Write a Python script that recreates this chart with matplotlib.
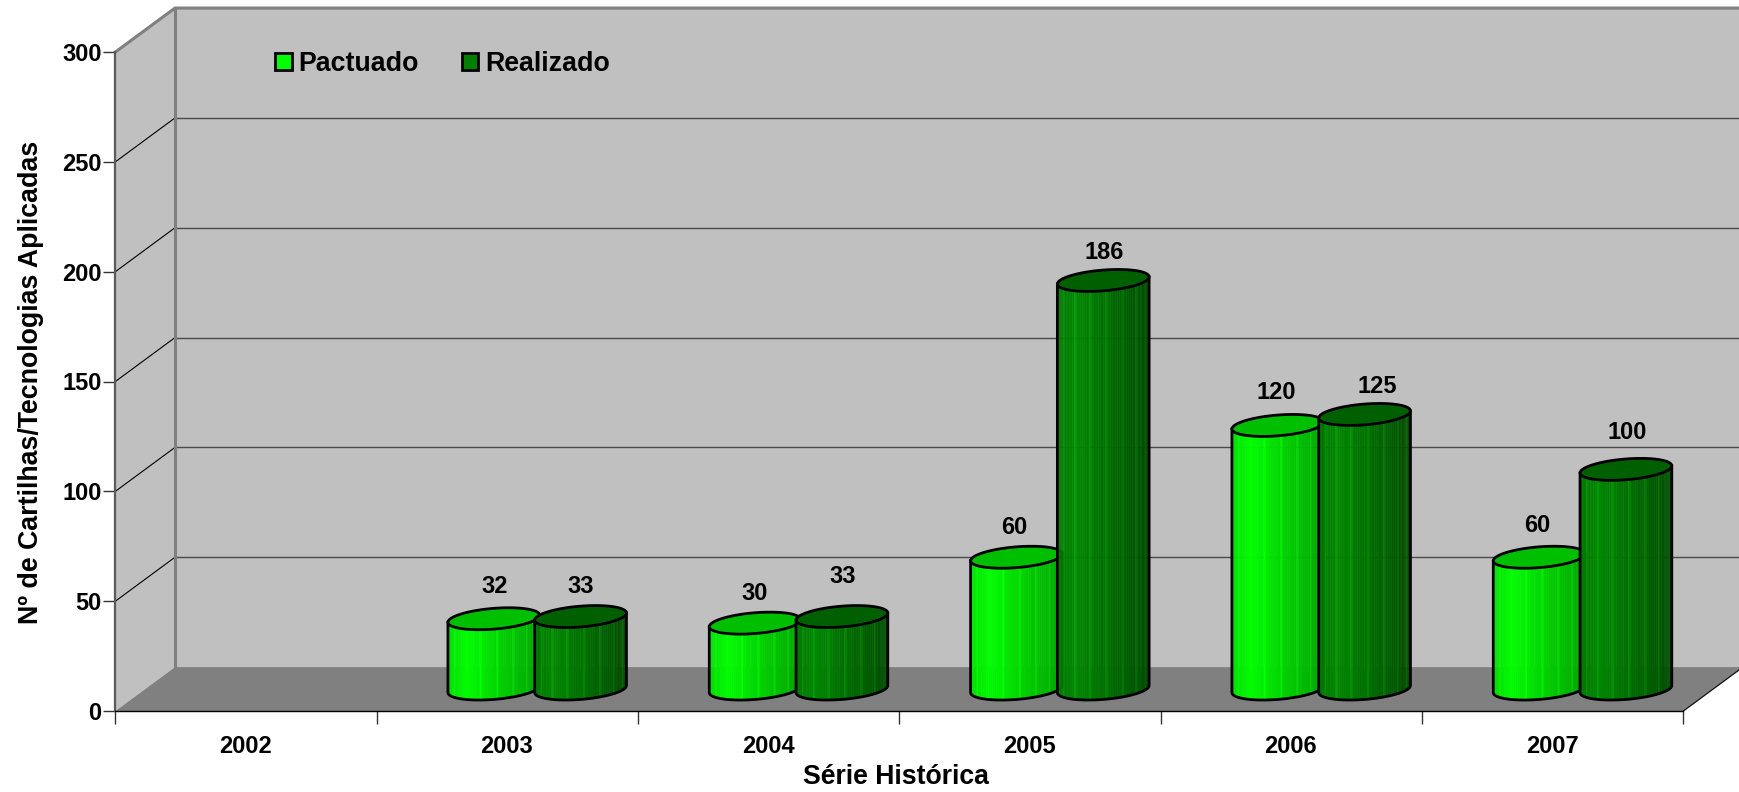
#!/usr/bin/python3

import numpy as np
import matplotlib
matplotlib.use("Agg")
import matplotlib.pyplot as plt
from matplotlib.collections import PolyCollection
from matplotlib.patches import Patch, Polygon

categories = ["2002", "2003", "2004", "2005", "2006", "2007"]
pactuado = [None, 32, 30, 60, 120, 60]
realizado = [None, 33, 33, 186, 125, 100]
y_ticks = [0, 50, 100, 150, 200, 250, 300]

# small nudges of the value labels, pixels from the top of each cylinder
nudge_pactuado = [None, (1, 32), (-1, 30), (-2, 30), (-2, 33), (-2, 32)]
nudge_realizado = [None, (0, 30), (1, 40), (1, 28), (13, 28), (1, 37)]

plt.rcParams["font.family"] = ["Liberation Sans", "DejaVu Sans"]
plt.rcParams["font.weight"] = "bold"

GRAY = "#808080"
WALL = "#c0c0c0"
DEPTH_X = 0.228   # depth of the box in category units
DEPTH_Y = 20.0    # and in value units
RX = 0.166
RD = 0.25
YMAX = 300
N = len(categories)

fig = plt.figure(figsize=(17.4, 7.92), dpi=100)
ax = fig.add_axes([115.4 / 1740, 81 / 792, 1568 / 1740, 659 / 792])
ax.set_xlim(0, N)
ax.set_ylim(0, YMAX)
ax.patch.set_visible(False)

# box: walls, floor, grid
ax.add_patch(Polygon([(0, 0), (DEPTH_X, DEPTH_Y), (DEPTH_X, YMAX + DEPTH_Y), (0, YMAX)],
                     fc=WALL, ec="none", clip_on=False, zorder=1))
ax.add_patch(Polygon([(DEPTH_X, DEPTH_Y), (N + DEPTH_X, DEPTH_Y),
                      (N + DEPTH_X, YMAX + DEPTH_Y), (DEPTH_X, YMAX + DEPTH_Y)],
                     fc=WALL, ec="none", clip_on=False, zorder=1))
ax.add_patch(Polygon([(0, 0), (N, 0), (N + DEPTH_X, DEPTH_Y), (DEPTH_X, DEPTH_Y)],
                     fc=GRAY, ec="none", clip_on=False, zorder=1))

for v in y_ticks[1:-1]:
    ax.plot([DEPTH_X, N + DEPTH_X], [v + DEPTH_Y, v + DEPTH_Y], color="#4a4a4a",
            lw=1.0, clip_on=False, zorder=2)
    ax.plot([0, DEPTH_X], [v, v + DEPTH_Y], color="black", lw=0.8, clip_on=False, zorder=2)
ax.plot([0, DEPTH_X, N + DEPTH_X], [YMAX, YMAX + DEPTH_Y, YMAX + DEPTH_Y], color=GRAY,
        lw=2.2, clip_on=False, zorder=2)
ax.plot([DEPTH_X, DEPTH_X], [DEPTH_Y, YMAX + DEPTH_Y], color=GRAY, lw=2.2, clip_on=False, zorder=2)
ax.plot([N, N + DEPTH_X], [0, DEPTH_Y], color="#111111", lw=0.9, clip_on=False, zorder=2)


def side_colour(u, stops):
    pos = [0, 0.2, 0.6, 1]
    return np.interp(u, pos, stops) / 255


def cylinder(xc, value, stops, top, z):
    t = np.radians(np.linspace(199, 379, 61))
    ox = RX * np.cos(t) + RD * DEPTH_X * np.sin(t)
    oy = RD * DEPTH_Y * np.sin(t)
    y0 = DEPTH_Y * 0.5
    quads = []
    colours = []
    for i in range(len(t) - 1):
        quads.append([(xc + ox[i], y0 + oy[i]), (xc + ox[i + 1], y0 + oy[i + 1]),
                      (xc + ox[i + 1], y0 + value + oy[i + 1]), (xc + ox[i], y0 + value + oy[i])])
        u = (ox[i] - ox[0]) / (ox[-1] - ox[0])
        g = side_colour(u, stops)
        if i % 7 == 3:
            g = min(g + 0.09, 1)
        colours.append((0, g, 0))
    ax.add_collection(PolyCollection(quads, facecolors=colours, edgecolors=colours,
                                     linewidths=0.3, zorder=z, clip_on=False))
    # outline of the body
    ax.plot(np.r_[xc + ox[0], xc + ox, xc + ox[-1]],
            np.r_[y0 + value + oy[0], y0 + oy, y0 + value + oy[-1]],
            color="black", lw=2.0, zorder=z + 0.1, clip_on=False)
    # top cap
    a = np.radians(np.linspace(0, 360, 90))
    cap = np.c_[xc + RX * np.cos(a) + RD * DEPTH_X * np.sin(a),
                y0 + value + RD * DEPTH_Y * np.sin(a)]
    ax.add_patch(Polygon(cap, fc=top, ec="black", lw=2.0, zorder=z + 0.2, clip_on=False))


def value_label(xc, value, nudge):
    ax.annotate(str(value), (xc, DEPTH_Y * 0.5 + value),
                xytext=(nudge[0] * 0.72, nudge[1] * 0.72), textcoords="offset points",
                ha="center", va="center", fontsize=17, zorder=50, annotation_clip=False)


STOPS_P = [225, 255, 205, 165]
STOPS_R = [120, 135, 105, 75]

for i in range(N):
    centre = i + 0.5 + DEPTH_X * 0.5
    if pactuado[i] is not None:
        cylinder(centre - RX, pactuado[i], STOPS_P, "#00bf00", 10 + i * 2)
        value_label(centre - RX, pactuado[i], nudge_pactuado[i])
    if realizado[i] is not None:
        cylinder(centre + RX, realizado[i], STOPS_R, "#006000", 11 + i * 2)
        value_label(centre + RX, realizado[i], nudge_realizado[i])

# axes
for side in ["top", "right"]:
    ax.spines[side].set_visible(False)
ax.spines["left"].set_color("#5a5a5a")
ax.spines["left"].set_linewidth(1.6)
ax.spines["bottom"].set_color("black")
ax.spines["bottom"].set_linewidth(1.0)
ax.spines["left"].set_zorder(3)
ax.spines["bottom"].set_zorder(3)

ax.set_yticks(y_ticks)
ax.tick_params(axis="y", length=8.5, width=1.0, color="#333333", pad=1.5, labelsize=17)
ax.set_xticks(range(N + 1))
ax.set_xticklabels([])
ax.tick_params(axis="x", which="major", length=9.5, width=1.0, color="#333333")
ax.set_xticks(np.arange(N) + 0.497, minor=True)
ax.set_xticklabels(categories, minor=True, fontsize=17)
ax.tick_params(axis="x", which="minor", length=0, pad=17)

fig.text(896 / 1740, 1 - 777 / 792, "Série Histórica", fontsize=19.2, ha="center", va="center")
fig.text(31 / 1740, 1 - 382 / 792, "Nº de Cartilhas/Tecnologias Aplicadas", fontsize=19.3,
         rotation=90, ha="center", va="center")

handles = [Patch(fc="#00ff00", ec="black", lw=2.0, label="Pactuado"),
           Patch(fc="#008000", ec="black", lw=2.0, label="Realizado")]
leg = ax.legend(handles=handles, loc="center left", bbox_to_anchor=(275 / 1740, 1 - 64 / 792),
                bbox_transform=fig.transFigure, ncol=2, frameon=False, fontsize=19.3,
                handlelength=0.62, handleheight=0.62, handletextpad=0.26,
                columnspacing=1.6, borderpad=0, borderaxespad=0)
leg.set_zorder(60)

fig.savefig("out.png", dpi=100)
